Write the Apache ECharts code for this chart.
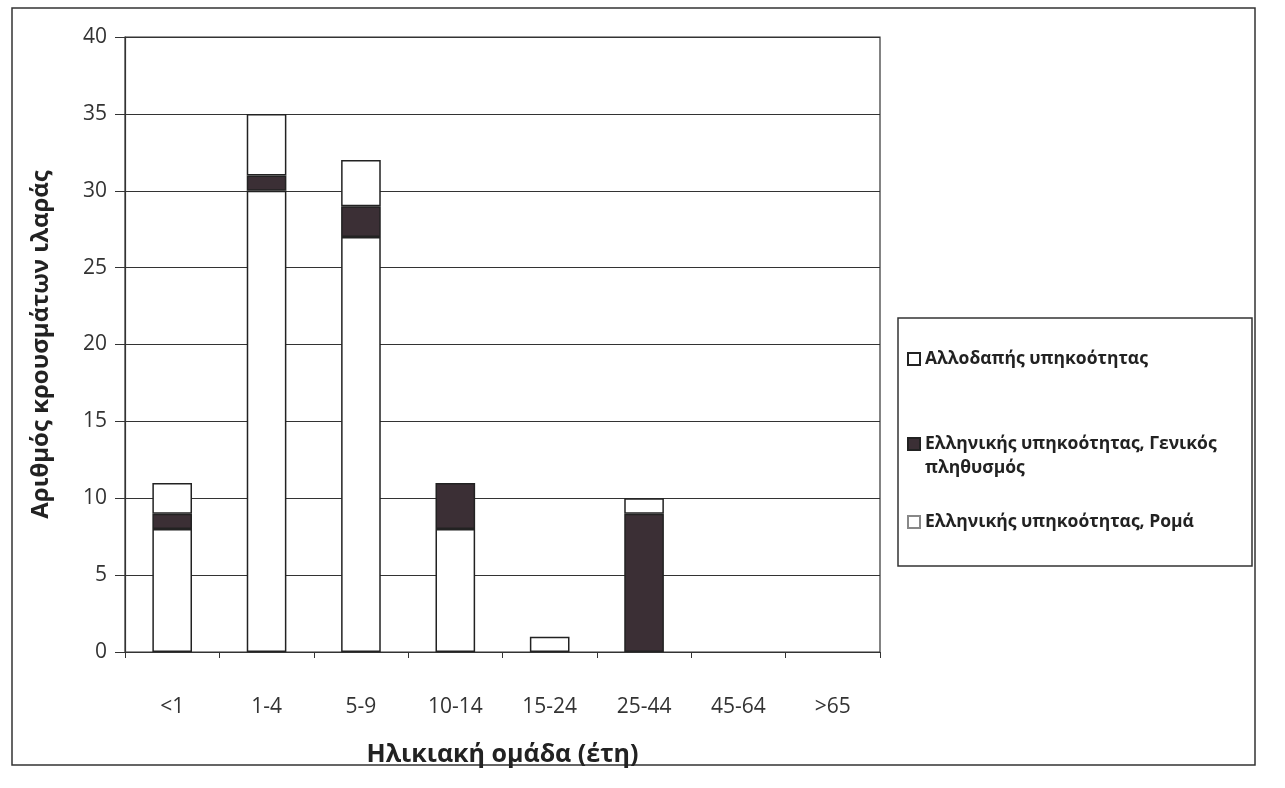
<!DOCTYPE html>
<html>
<head>
<meta charset="utf-8">
<script src="https://cdn.jsdelivr.net/npm/echarts@6/dist/echarts.min.js"></script>
<style>html,body{margin:0;padding:0;background:#fff;}#c{width:1285px;height:788px;}</style>
</head>
<body>
<div id="c"></div>
<script>
const categories = ['<1', '1-4', '5-9', '10-14', '15-24', '25-44', '45-64', '>65'];
const roma = [8, 30, 27, 8, 1, 0, 0, 0];
const general = [1, 1, 2, 3, 0, 9, 0, 0];
const foreign = [2, 4, 3, 0, 0, 1, 0, 0];
const yTicks = [0, 5, 10, 15, 20, 25, 30, 35, 40];
const names = ['Ελληνικής υπηκοότητας, Ρομά', 'Ελληνικής υπηκοότητας, Γενικός πληθυσμός', 'Αλλοδαπής υπηκοότητας'];

const FONT = '"Open Sans", "Noto Sans", sans-serif';
const chart = echarts.init(document.getElementById('c'));
const barStyle = (fill) => ({ color: fill, borderColor: '#222', borderWidth: 1.5 });
const noZero = (arr) => arr.map(v => v === 0 ? null : v);
const legendBase = {
  orient: 'vertical', icon: 'rect', itemWidth: 12, itemHeight: 12, itemGap: 0,
  textStyle: { fontFamily: FONT, fontSize: 17.5, fontWeight: 'bold', color: '#222', lineHeight: 24 },
  selectedMode: false
};
chart.setOption({
  animation: false,
  backgroundColor: '#fff',
  graphic: [
    { type: 'rect', shape: { x: 12, y: 8, width: 1243, height: 757 }, style: { fill: 'none', stroke: '#333', lineWidth: 1.5 } },
    { type: 'rect', shape: { x: 898, y: 318, width: 354, height: 248 }, style: { fill: 'none', stroke: '#333', lineWidth: 1.5 } }
  ],
  legend: [
    Object.assign({}, legendBase, { left: 902, top: 342, data: [names[2]] }),
    Object.assign({}, legendBase, { left: 902, top: 403, data: [names[1]],
      formatter: (n) => '\n' + n.replace('Γενικός πληθυσμός', 'Γενικός\nπληθυσμός') }),
    Object.assign({}, legendBase, { left: 902, top: 505, data: [{ name: names[0], itemStyle: { borderColor: '#888' } }] })
  ],
  grid: { left: 125, right: 405, top: 37, bottom: 136, show: true, borderColor: '#333', borderWidth: 1.2 },
  xAxis: {
    type: 'category', data: categories,
    name: 'Ηλικιακή ομάδα (έτη)', nameLocation: 'middle', nameGap: 90,
    nameTextStyle: { fontFamily: FONT, fontSize: 25, fontWeight: 'bold', color: '#222' },
    axisLine: { lineStyle: { color: '#333', width: 1.2 } },
    axisTick: { show: true, alignWithLabel: false, length: 6, lineStyle: { color: '#333' } },
    axisLabel: { fontFamily: FONT, fontSize: 21, color: '#333', margin: 45 }
  },
  yAxis: {
    type: 'value', min: 0, max: 40, interval: 5,
    name: 'Αριθμός κρουσμάτων ιλαράς', nameLocation: 'middle', nameGap: 72,
    nameTextStyle: { fontFamily: FONT, fontSize: 24, fontWeight: 'bold', color: '#222' },
    axisLine: { show: true, lineStyle: { color: '#333', width: 1.2 } },
    axisTick: { show: true, length: 10, lineStyle: { color: '#333' } },
    axisLabel: { fontFamily: FONT, fontSize: 21, color: '#333', margin: 18,
      formatter: (v) => yTicks.includes(v) ? String(v) : '' },
    splitLine: { lineStyle: { color: '#333', width: 1.2 } }
  },
  series: [
    { name: names[0], type: 'bar', stack: 'a', data: noZero(roma), barWidth: '42%', itemStyle: barStyle('#ffffff') },
    { name: names[1], type: 'bar', stack: 'a', data: noZero(general), barWidth: '42%', itemStyle: barStyle('#3b2f35') },
    { name: names[2], type: 'bar', stack: 'a', data: noZero(foreign), barWidth: '42%', itemStyle: barStyle('#ffffff') }
  ]
});
</script>
</body>
</html>
